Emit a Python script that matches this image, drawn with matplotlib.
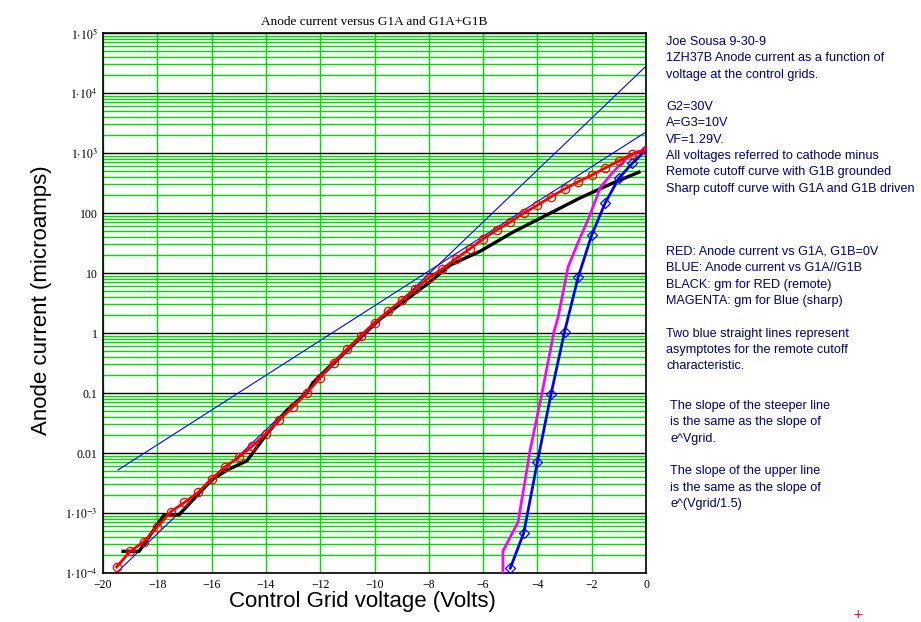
import numpy as np
import matplotlib
matplotlib.use("Agg")
import matplotlib.pyplot as plt
from matplotlib.ticker import FixedLocator, LogLocator, NullFormatter

# remote cutoff: anode current vs G1A (uA), circles every 0.5 V
red_v = [-19.5, -19.0, -18.5, -18.0, -17.5, -17.0, -16.5, -16.0, -15.5, -15.0,
         -14.5, -14.0, -13.5, -13.0, -12.5, -12.0, -11.5, -11.0, -10.5, -10.0,
         -9.5, -9.0, -8.5, -8.0, -7.5, -7.0, -6.5, -6.0, -5.5, -5.0,
         -4.5, -4.0, -3.5, -3.0, -2.5, -2.0, -1.5, -1.0, -0.5, 0.0]
red_i = [1.26e-4, 2.3e-4, 3.3e-4, 5.9e-4, 1.05e-3, 1.5e-3, 2.2e-3, 3.7e-3, 5.9e-3, 8.5e-3,
         0.013, 0.021, 0.036, 0.059, 0.10, 0.18, 0.32, 0.54, 0.89, 1.48,
         2.3, 3.5, 5.4, 8.3, 11.7, 17.4, 25, 37, 52, 71,
         100, 135, 186, 251, 331, 427, 562, 741, 955, 1120]

# sharp cutoff: anode current vs G1A//G1B
blue_v = [-5.0, -4.5, -4.0, -3.5, -3.0, -2.5, -2.0, -1.5, -1.0, -0.5, 0.0]
blue_i = [1.2e-4, 4.7e-4, 7.1e-3, 0.095, 1.05, 8.5, 43, 148, 380, 676, 1120]

# gm for red (remote)
black_v = [-19.26, -18.67, -17.75, -17.2, -16.02, -15.43, -14.7, -13.96, -13.22, -12.49,
           -12.26, -10.9, -9.98, -8.69, -7.96, -7.22, -6.11, -4.9, -3.65, -2.43, -1.22, -0.26]
black_i = [2.3e-4, 2.3e-4, 9.3e-4, 9.3e-4, 3.5e-3, 5.2e-3, 7.4e-3, 0.021, 0.052, 0.10,
           0.15, 0.59, 1.48, 4.0, 7.1, 13.5, 23, 48, 93, 178, 316, 479]

# gm for blue (sharp)
mag_v = [-5.27, -5.27, -4.71, -4.27, -3.83, -3.39, -3.24, -2.87, -2.47, -2.06, -1.69,
         -1.22, -0.70, -0.33, -0.04]
mag_i = [5e-5, 2.3e-4, 7.1e-4, 0.011, 0.1, 1.05, 1.8, 12.6, 35, 93, 263,
         479, 832, 1050, 1120]

# asymptotes (end points)
steep_v = [-19.8, 0.0]
steep_i = [7.5e-5, 28000]
upper_v = [-19.45, 0.0]
upper_i = [0.0052, 2240]

xticks = [-20, -18, -16, -14, -12, -10, -8, -6, -4, -2, 0]
yticks = [1e-4, 1e-3, 0.01, 0.1, 1, 10, 100, 1e3, 1e4, 1e5]
ytick_labels = [r'$1{\cdot}10^{-4}$', r'$1{\cdot}10^{-3}$', '0.01', '0.1', '1', '10', '100',
                r'$1{\cdot}10^{3}$', r'$1{\cdot}10^{4}$', r'$1{\cdot}10^{5}$']

notes = [
    (666, 42, ["Joe Sousa 9-30-9",
               "1ZH37B Anode current as a function of",
               "voltage at the control grids.",
               "",
               "G2=30V",
               "A=G3=10V",
               "VF=1.29V.",
               "All voltages referred to cathode minus",
               "Remote cutoff curve with G1B grounded",
               "Sharp cutoff curve with G1A and G1B driven"]),
    (666, 252, ["RED: Anode current vs G1A, G1B=0V",
                "BLUE: Anode current vs G1A//G1B",
                "BLACK: gm for RED (remote)",
                "MAGENTA: gm for Blue (sharp)",
                "",
                "Two blue straight lines represent",
                "asymptotes for the remote cutoff",
                "characteristic."]),
    (670, 406, ["The slope of the steeper line",
                "is the same as the slope of",
                "e^Vgrid.",
                "",
                "The slope of the upper line",
                "is the same as the slope of",
                "e^(Vgrid/1.5)"]),
]

plt.rcParams['mathtext.fontset'] = 'stix'
W, H = 921, 622
fig = plt.figure(figsize=(W / 100, H / 100), dpi=100)
ax = fig.add_axes([103 / W, (H - 573) / H, 543 / W, 540 / H])

green = '#00dd00'
ax.set_yscale('log')
ax.set_xlim(-20, 0)
ax.set_ylim(1e-4, 1e5)

ax.yaxis.set_major_locator(FixedLocator(yticks))
ax.yaxis.set_minor_locator(LogLocator(base=10, subs=np.arange(2, 10), numticks=20))
ax.yaxis.set_minor_formatter(NullFormatter())
ax.set_yticklabels(ytick_labels)
ax.set_xticks(xticks)
ax.set_xticklabels([str(t).replace('-', '\u2212') for t in xticks])
ax.grid(True, which='minor', axis='y', color=green, lw=1.0, zorder=0)
ax.grid(True, which='major', axis='x', color=green, lw=1.0, zorder=0)
ax.grid(True, which='major', axis='y', color='black', lw=1.0, zorder=0.5)
ax.tick_params(which='both', length=0, labelsize=8.5, pad=4)
for lab in ax.get_xticklabels() + ax.get_yticklabels():
    lab.set_family('Liberation Serif')
for s in ax.spines.values():
    s.set_linewidth(1.2)

ax.plot(upper_v, upper_i, color='blue', lw=0.8, zorder=2)
ax.plot(steep_v, steep_i, color='blue', lw=0.8, zorder=2)
ax.plot(black_v, black_i, color='black', lw=2.4, zorder=3)
ax.plot(mag_v, mag_i, color='magenta', lw=2.0, zorder=3)
ax.plot(blue_v, blue_i, color='blue', lw=2.0, marker='D', ms=5, mfc='none',
        mec='blue', mew=0.9, zorder=4)
ax.plot(red_v, red_i, color='red', lw=2.0, marker='o', ms=6, mfc='none',
        mec='red', mew=0.9, zorder=5)

ax.set_title('Anode current versus G1A and G1A+G1B', family='Liberation Serif',
             fontsize=9.5, pad=6)
fig.text(362 / W, 1 - 601 / H, 'Control Grid voltage (Volts)', ha='center', va='center',
         family='Liberation Sans', fontsize=16)
fig.text(42 / W, 1 - 300 / H, 'Anode current (microamps)', ha='center', va='center',
         rotation=90, family='Liberation Sans', fontsize=16)

for x0, y0, lines in notes:
    for k, line in enumerate(lines):
        fig.text(x0 / W, 1 - (y0 + 16.3 * k) / H, line, ha='left', va='center',
                 family='Liberation Sans', fontsize=9.1, color='#000080')

fig.text(858 / W, 1 - 614 / H, '+', color='red', ha='center', va='center', fontsize=9)

fig.savefig('out.png', dpi=100)
